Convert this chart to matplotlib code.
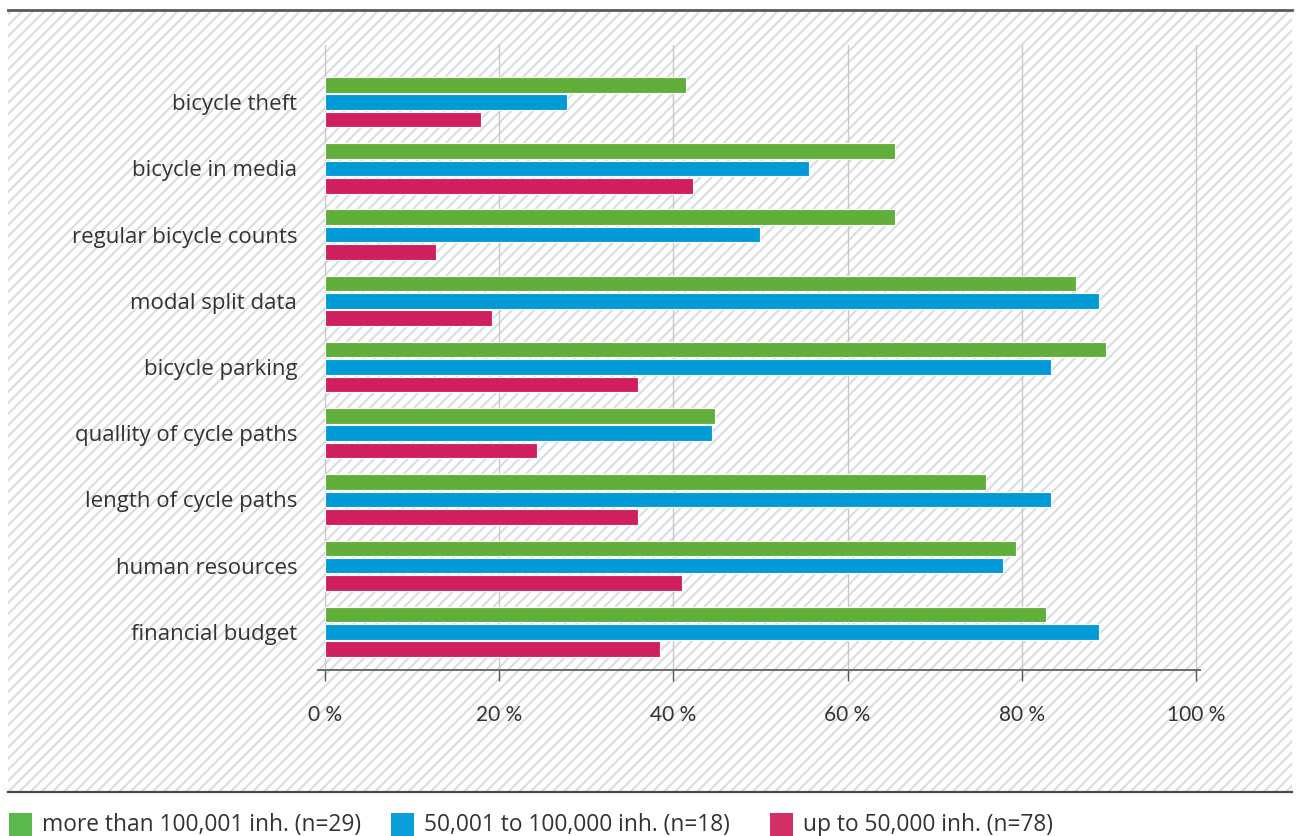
import matplotlib.pyplot as plt
from matplotlib.patches import Rectangle
from matplotlib.lines import Line2D
import numpy as np

plt.rcParams['font.family'] = ['Open Sans', 'DejaVu Sans']
plt.rcParams['hatch.linewidth'] = 1.5

categories = ["bicycle theft", "bicycle in media", "regular bicycle counts",
              "modal split data", "bicycle parking", "quallity of cycle paths",
              "length of cycle paths", "human resources", "financial budget"]
big = [41.4, 65.5, 65.5, 86.2, 89.7, 44.8, 75.9, 79.3, 82.8]
mid = [27.8, 55.6, 50.0, 88.9, 83.3, 44.4, 83.3, 77.8, 88.9]
small = [17.9, 42.3, 12.8, 19.2, 35.9, 24.4, 35.9, 41.0, 38.5]
series_labels = ["more than 100,001 inh. (n=29)", "50,001 to 100,000 inh. (n=18)",
                 "up to 50,000 inh. (n=78)"]
bar_colors = ["#62ae3a", "#009bd6", "#d01f5e"]
legend_colors = ["#5bb84c", "#0a9fdb", "#d22f68"]
xticks = [0, 20, 40, 60, 80, 100]

W, H = 1300, 836
fig = plt.figure(figsize=(W / 100, H / 100), dpi=100)

# hatched background band
bg = Rectangle((8 / W, 1 - 792 / H), 1284 / W, 782 / H, transform=fig.transFigure,
               facecolor='white', edgecolor='#d9dce1', hatch='///', linewidth=0, zorder=-10)
fig.patches.append(bg)
fig.add_artist(Line2D([8 / W, 1292 / W], [1 - 10 / H, 1 - 10 / H], color='#5a5a5a', lw=2.0))
fig.add_artist(Line2D([8 / W, 1292 / W], [1 - 792 / H, 1 - 792 / H], color='#4a4a4a', lw=1.6))

ax = fig.add_axes([318 / W, 1 - 670 / H, 882 / W, 625 / H])
ax.patch.set_visible(False)

y = np.arange(len(categories))
off = 0.262
h = 0.235
for vals, col, d in zip([big, mid, small], bar_colors, [-off, 0, off]):
    ax.barh(y + d, vals, height=h, color=col, edgecolor='white', linewidth=0.8, zorder=3)

ax.set_xlim(-0.8, 100.46)
ax.set_ylim(8.576, -0.864)
for xt in xticks:
    ax.axvline(xt, color='#c8c8c8', lw=1.0, zorder=1)

for s in ['top', 'right', 'left']:
    ax.spines[s].set_visible(False)
ax.spines['bottom'].set_color('#6a6a6a')
ax.spines['bottom'].set_linewidth(1.4)

ax.set_xticks(xticks)
ax.set_xticklabels([f"{v} %" for v in xticks], family=['Lato', 'DejaVu Sans'])
ax.tick_params(axis='x', direction='out', length=8, width=1.0, color='#555555',
               pad=17, labelsize=15, labelcolor='#333333')
ax.set_yticks(y)
ax.set_yticklabels(categories)
ax.tick_params(axis='y', length=0, pad=15, labelsize=16, labelcolor='#333333')

# legend row
sq_x = [9, 391, 770]
for sx, col, lab in zip(sq_x, legend_colors, series_labels):
    fig.patches.append(Rectangle((sx / W, 0), 23 / W, 23 / H, transform=fig.transFigure,
                                 facecolor=col, edgecolor='none'))
    fig.text((sx + 33) / W, 1 - 825 / H, lab, fontsize=16.4, color='#333333',
             ha='left', va='center')

fig.savefig('out.png', dpi=100)
